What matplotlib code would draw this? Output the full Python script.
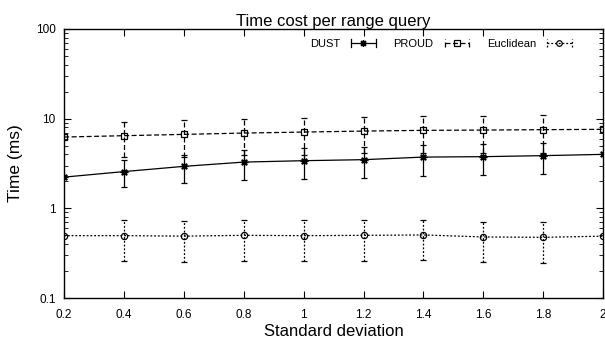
import numpy as np
import matplotlib.pyplot as plt
from matplotlib.legend_handler import HandlerBase
from matplotlib.lines import Line2D

plt.rcParams['font.family'] = ['Liberation Sans', 'DejaVu Sans']

# Valors llegits de la gràfica
desviacio = [0.2, 0.4, 0.6, 0.8, 1.0, 1.2, 1.4, 1.6, 1.8, 2.0]

dust = [2.23, 2.57, 2.94, 3.28, 3.40, 3.49, 3.73, 3.77, 3.87, 4.0]
dust_err = [np.nan, 0.85, 1.0, 1.2, 1.25, 1.3, 1.42, 1.42, 1.44, np.nan]

proud = [6.24, 6.46, 6.68, 6.91, 7.09, 7.27, 7.41, 7.46, 7.54, 7.60]
proud_err = [np.nan, 2.74, 2.9, 3.0, 3.2, 3.1, 3.3, 3.3, 3.4, np.nan]

eucl = [0.496, 0.496, 0.49, 0.50, 0.496, 0.50, 0.505, 0.48, 0.475, 0.49]
eucl_err = [np.nan, 0.24, 0.24, 0.24, 0.24, 0.24, 0.24, 0.23, 0.23, np.nan]

xticks = [0.2, 0.4, 0.6, 0.8, 1, 1.2, 1.4, 1.6, 1.8, 2]
xtick_labels = ['0.2', '0.4', '0.6', '0.8', '1', '1.2', '1.4', '1.6', '1.8', '2']
yticks = [0.1, 1, 10, 100]
ytick_labels = ['0.1', '1', '10', '100']

series = [
    ('DUST', dust, dust_err, '-', (8, 2, 0), 5.5),
    ('PROUD', proud, proud_err, (0, (4, 2)), 's', 5),
    ('Euclidean', eucl, eucl_err, (0, (1.5, 1.5)), 'o', 4.5),
]


# Mostra de llegenda a l'estil gnuplot: |--o--|
class HandlerGnuplot(HandlerBase):
    def create_artists(self, legend, orig, xd, yd, w, h, fs, trans):
        ls, mk, ms = orig.h
        y = yd + h / 2
        lin = Line2D([xd, xd + w], [y, y], color='black', lw=0.9, ls=ls, transform=trans)
        c1 = Line2D([xd, xd], [y - 3, y + 3], color='black', lw=0.9, ls=ls, transform=trans)
        c2 = Line2D([xd + w, xd + w], [y - 3, y + 3], color='black', lw=0.9, ls=ls, transform=trans)
        m = Line2D([xd + w / 2], [y], marker=mk, ms=ms - 0.5, mfc='none', mec='black',
                   mew=0.9, transform=trans)
        return [lin, c1, c2, m]


class Clau:
    def __init__(self, h):
        self.h = h


fig = plt.figure(figsize=(6.05, 3.41), dpi=100)
ax = fig.add_axes([0.106, 0.126, 0.891, 0.789])

claus = []
for nom, vals, err, ls, mk, ms in series:
    ebar = ax.errorbar(desviacio, vals, yerr=err, color='black', lw=0.9, ls=ls,
                       marker=mk, ms=ms, mfc='none', mec='black', mew=0.9,
                       elinewidth=0.9, capsize=2.5, capthick=0.9)
    ebar[2][0].set_linestyle(ls)
    claus.append(Clau((ls, mk, ms)))

ax.set_yscale('log')
ax.set_xlim(0.2, 2)
ax.set_ylim(0.1, 100)
ax.set_xticks(xticks, labels=xtick_labels)
ax.set_yticks(yticks, labels=ytick_labels)
ax.tick_params(which='both', direction='in', top=True, right=True, labelsize=8.5)
ax.tick_params(axis='x', pad=8)
ax.tick_params(axis='y', pad=6)
ax.tick_params(which='major', length=5)
ax.tick_params(which='minor', length=3)
for s in ax.spines.values():
    s.set_linewidth(1)

ax.set_xlabel('Standard deviation', fontsize=12, labelpad=2)
ax.set_ylabel('Time (ms)', fontsize=12.5, labelpad=9)
ax.set_title('Time cost per range query', fontsize=12, pad=1)

ax.legend(claus, [s[0] for s in series], handler_map={Clau: HandlerGnuplot()},
          loc='upper right', ncol=3, frameon=False, markerfirst=False,
          fontsize=8, handlelength=2.2, columnspacing=1.6, handletextpad=1.0,
          borderaxespad=0.5, bbox_to_anchor=(0.96, 1.0))

plt.savefig('out.png', dpi=100)
